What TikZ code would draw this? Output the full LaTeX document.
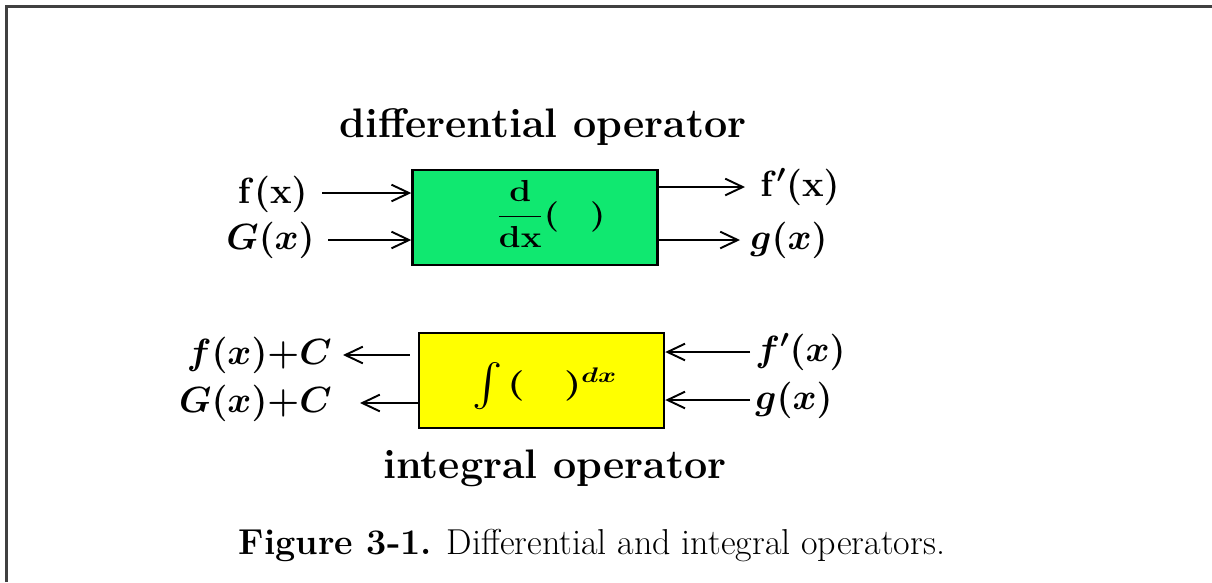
\documentclass[tikz,border=0pt]{standalone}
\usepackage{amsmath}
\usepackage{bm}
\usetikzlibrary{arrows.meta}
\definecolor{boxgreen}{RGB}{16,232,112}
\definecolor{boxyellow}{RGB}{255,255,0}
\tikzset{
  opbox/.style={draw=black, line width=1.4pt, inner sep=0pt, minimum width=245*0.02cm, minimum height=95*0.02cm},
  lab/.style={font=\fontsize{19.5}{22}\selectfont, inner sep=0pt},
  flow/.style={line width=1.1pt, -{Straight Barb[length=10pt,width=9.5pt,line width=1.1pt]}},
  title/.style={font=\fontsize{23.5}{28}\selectfont\bfseries, inner sep=0pt},
}
\begin{document}
\begin{tikzpicture}[x=0.02cm,y=-0.02cm]
\useasboundingbox (0,0) rectangle (1212,582);
\draw[line width=1.2pt, black!75] (6.5,582) -- (6.5,6.5) -- (1212,6.5);

\node[title] (dtitle) at (543,127) {differential operator};
\node[opbox, fill=boxgreen] (dbox) at (535,217.5) {};
\node[font=\fontsize{16}{20}\selectfont] (dtext) at (551,214) {\scalebox{1.15}[1]{$\boldsymbol{\dfrac{\mathbf{d}}{\mathbf{dx}}(\mkern16mu)}$}};

\node[lab, anchor=east] (fx) at (308,194) {$\boldsymbol{\mathbf{f(x)}}$};
\node[lab, anchor=east] (Gx) at (315,240) {$\boldsymbol{G(x)}$};
\node[lab, anchor=west] (fpx) at (760,187) {$\boldsymbol{\mathbf{f'(x)}}$};
\node[lab, anchor=west] (gx) at (750,240) {$\boldsymbol{g(x)}$};
\coordinate (fxs) at (322,193);
\coordinate (Gxs) at (328,240);
\coordinate (fpxe) at (745,187);
\coordinate (gxe) at (740,240);

\draw[flow] (fxs) -- (dbox.west |- fxs);
\draw[flow] (Gxs) -- (dbox.west |- Gxs);
\draw[flow] (dbox.east |- fpxe) -- (fpxe);
\draw[flow] (dbox.east |- gxe) -- (gxe);

\node[opbox, fill=boxyellow] (ibox) at (541.5,380.5) {};
\node[font=\fontsize{17}{20}\selectfont] (itext) at (545,386) {\scalebox{1.3}[1]{\raisebox{-0.12em}{\scalebox{1.15}[1.4]{$\int$}}$\mkern2mu\boldsymbol{(\mkern18mu)^{dx}}$}};

\node[lab, anchor=east] (fC) at (332,355) {$\boldsymbol{f(x){+}C}$};
\node[lab, anchor=east] (GC) at (332,403) {$\boldsymbol{G(x){+}C}$};
\node[lab, anchor=west] (fpx2) at (755,352) {$\boldsymbol{f'(x)}$};
\node[lab, anchor=west] (gx2) at (755,400) {$\boldsymbol{g(x)}$};
\coordinate (fCe) at (343,355);
\coordinate (GCe) at (360,403);
\coordinate (fpxs) at (750,352);
\coordinate (gxs) at (750,400);

\draw[flow] ([xshift=-8*0.02cm]ibox.west |- fCe) -- (fCe);
\draw[flow] (ibox.west |- GCe) -- (GCe);
\draw[flow] (fpxs) -- (ibox.east |- fpxs);
\draw[flow] (gxs) -- (ibox.east |- gxs);

\node[title] (ititle) at (555,468) {integral operator};
\node[font=\fontsize{20.5}{24}\selectfont, inner sep=0pt] (cap) at (592,546) {\textbf{Figure 3-1.} Differential and integral operators.};
\end{tikzpicture}
\end{document}
